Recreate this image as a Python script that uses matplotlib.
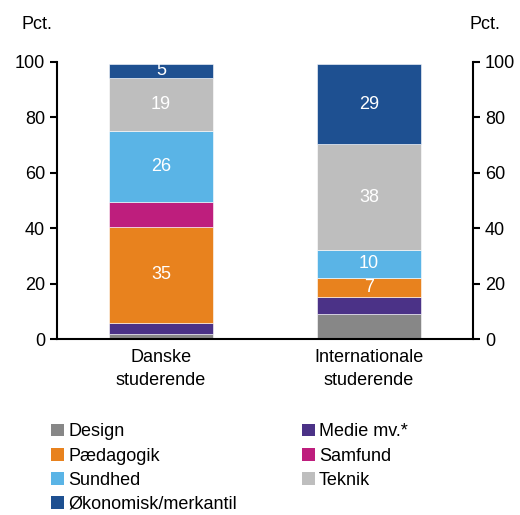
import matplotlib
matplotlib.use("Agg")
import matplotlib.pyplot as plt
from matplotlib.patches import Patch
import numpy as np

groups = ["Danske\nstuderende", "Internationale\nstuderende"]
categories = ["Design", "Medie mv.*", "Pædagogik", "Samfund", "Sundhed", "Teknik", "Økonomisk/merkantil"]
danske = [1.8, 4.1, 34.6, 9.1, 25.5, 19.2, 5.0]
internationale = [8.9, 6.4, 6.8, 0.0, 10.0, 38.2, 29.0]
# labels shown inside segments (empty = none)
danske_labels = ["", "", "35", "", "26", "19", "5"]
internationale_labels = ["", "", "7", "", "10", "38", "29"]
colors = ["#878787", "#4B3287", "#E8821E", "#BE1E7D", "#5AB4E6", "#BEBEBE", "#1E5091"]

plt.rcParams["font.family"] = ["Liberation Sans", "DejaVu Sans"]
fig = plt.figure(figsize=(5.2, 5.15), dpi=100)
ax = fig.add_axes([0.1096, 0.3417, 0.8, 0.538])

data = np.array([danske, internationale])
labels = [danske_labels, internationale_labels]
x = np.arange(len(groups))
bottom = np.zeros(len(groups))
for i, cat in enumerate(categories):
    vals = data[:, i]
    ax.bar(x, vals, 0.5, bottom=bottom, color=colors[i], edgecolor="white", linewidth=0.4)
    for j in range(len(groups)):
        if labels[j][i]:
            ax.text(x[j], bottom[j] + vals[j] / 2, labels[j][i], ha="center", va="center",
                    color="white", fontsize=13)
    bottom += vals

ax.set_xlim(-0.5, 1.5)
ax.set_ylim(0, 100)
ax.set_yticks(range(0, 101, 20))
ax.set_xticks(x)
ax.set_xticklabels(groups, fontsize=13, linespacing=1.45)
ax.tick_params(axis="x", length=0, pad=7)
ax.tick_params(axis="y", labelsize=13, width=1.5, length=5, direction="out",
               right=True, labelright=True)
for s in ["left", "right", "bottom"]:
    ax.spines[s].set_linewidth(1.5)
ax.spines["top"].set_visible(False)

fig.text(0.042, 0.953, "Pct.", fontsize=13, ha="left", va="center")
fig.text(0.903, 0.953, "Pct.", fontsize=13, ha="left", va="center")

handles = [Patch(facecolor=c, edgecolor="none") for c in colors]
order = [0, 2, 4, 6, 1, 3, 5]
fig.legend([handles[k] for k in order], [categories[k] for k in order],
           loc="upper left", bbox_to_anchor=(0.098, 0.178), ncol=2, frameon=False,
           fontsize=13, handlelength=0.7, handleheight=0.7, handletextpad=0.25,
           columnspacing=3.6, labelspacing=0.4, borderaxespad=0, borderpad=0)

fig.savefig("out.png", dpi=100)
